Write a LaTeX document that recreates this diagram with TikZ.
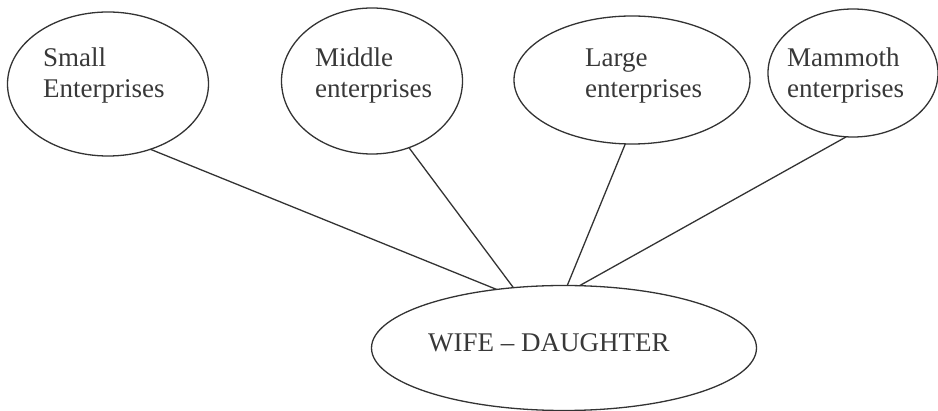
\documentclass[tikz,border=0pt]{standalone}
\usepackage{fontspec}
\setmainfont{Liberation Serif}
\usetikzlibrary{shapes.geometric,calc}

\begin{document}
\begin{tikzpicture}[x=1pt,y=-1pt,
		blob/.style={ellipse,draw=black!80,line width=1.3pt,inner sep=0pt,outer sep=0pt},
		tag/.style={anchor=base west,inner sep=0pt,align=left,text=black!78,font=\fontsize{27}{31}\selectfont},
		spoke/.style={draw=black!80,line width=1.3pt}]
		\useasboundingbox (0,0) rectangle (938,411);
		
		\node[blob,minimum width=201pt,minimum height=144pt] (small) at (108,84) {};
		\node[blob,minimum width=181pt,minimum height=146pt] (middle) at (372,81) {};
		\node[blob,minimum width=236pt,minimum height=128pt] (large) at (632,80) {};
		\node[blob,minimum width=170pt,minimum height=128pt] (mammoth) at (853,73) {};
		\node[blob,minimum width=385pt,minimum height=125pt] (wife) at (564,348) {};
		
		% base west sits on the last line
		\node[tag] (smalltxt) at (43,98) {Small\\Enterprises};
		\node[tag] (middletxt) at (315,98) {Middle\\enterprises};
		\node[tag] (largetxt) at (585,98) {Large\\enterprises};
		\node[tag] (mammothtxt) at (787,98) {Mammoth\\enterprises};
		\node[tag] (wifetxt) at (428,352) {WIFE -- DAUGHTER};
		
		\draw[spoke] (small.-57) -- (wife.139);
		\draw[spoke] (middle.-61) -- (wife.130);
		\draw[spoke] (large.-96) -- (wife.87);
		\draw[spoke] (mammoth.-96) -- (wife.76);
	\end{tikzpicture}
\end{document}
